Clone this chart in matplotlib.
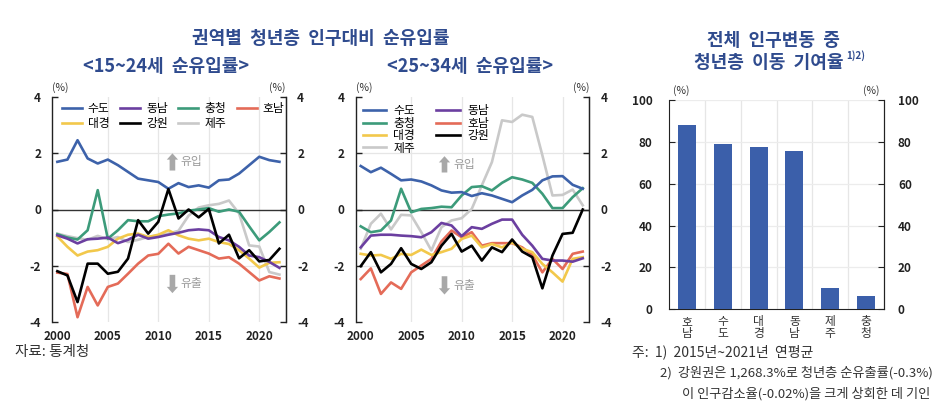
import matplotlib
matplotlib.use("Agg")
import matplotlib.pyplot as plt
import numpy as np

plt.rcParams['font.family'] = ['Noto Sans CJK KR', 'DejaVu Sans']
plt.rcParams['axes.unicode_minus'] = False

years = list(range(2000, 2023))

# <15~24세 순유입률> (%)
young_sudo = [1.70, 1.78, 2.47, 1.82, 1.64, 1.78, 1.58, 1.34, 1.10, 1.04, 0.98, 0.74, 0.94, 0.80, 0.86, 0.78, 1.04, 1.07, 1.28, 1.58, 1.88, 1.76, 1.70]
young_dongnam = [-0.92, -1.04, -1.21, -1.06, -1.04, -1.00, -1.20, -1.08, -0.90, -1.04, -0.98, -0.90, -0.83, -0.74, -0.71, -0.74, -0.98, -1.10, -1.33, -1.64, -1.70, -1.87, -2.08]
young_chungcheong = [-0.88, -1.00, -1.07, -0.74, 0.69, -1.04, -0.74, -0.38, -0.42, -0.42, -0.24, -0.18, -0.14, -0.04, 0.00, 0.05, -0.08, 0.00, -0.08, -0.60, -1.10, -0.80, -0.46]
young_honam = [-2.25, -2.30, -3.84, -2.76, -3.42, -2.76, -2.64, -2.29, -1.93, -1.64, -1.58, -1.22, -1.57, -1.33, -1.45, -1.57, -1.75, -1.70, -1.93, -2.23, -2.53, -2.38, -2.46]
young_daegyeong = [-0.96, -1.33, -1.64, -1.50, -1.45, -1.33, -1.04, -0.90, -0.86, -0.98, -0.90, -0.74, -0.92, -1.04, -1.10, -1.04, -1.16, -1.23, -1.45, -1.75, -2.07, -1.90, -1.88]
young_gangwon = [-2.20, -2.35, -3.30, -1.93, -1.93, -2.29, -2.22, -1.75, -0.38, -0.86, -0.44, 0.73, -0.32, 0.00, -0.28, 0.02, -1.21, -0.90, -1.74, -1.45, -1.85, -1.80, -1.40]
young_jeju = [-0.86, -0.95, -1.02, -1.08, -0.94, -1.06, -0.98, -1.16, -1.08, -0.98, -0.92, -0.86, -0.76, -0.22, 0.07, 0.15, 0.20, 0.32, -0.14, -1.28, -1.32, -2.23, -2.32]

# <25~34세 순유입률> (%)
adult_sudo = [1.55, 1.33, 1.49, 1.27, 1.04, 1.07, 1.00, 0.86, 0.68, 0.60, 0.62, 0.48, 0.58, 0.50, 0.38, 0.26, 0.50, 0.70, 1.04, 1.18, 1.19, 0.88, 0.74]
adult_dongnam = [-1.35, -0.93, -0.90, -0.90, -0.93, -0.95, -0.99, -0.81, -0.48, -0.57, -0.95, -0.63, -0.69, -0.51, -0.36, -0.36, -0.90, -1.29, -1.76, -1.82, -1.82, -1.86, -1.74]
adult_chungcheong = [-0.60, -0.81, -0.75, -0.39, 0.74, -0.10, 0.02, 0.05, 0.10, 0.08, 0.50, 0.80, 0.83, 0.68, 0.95, 1.15, 1.07, 0.95, 0.56, 0.05, 0.05, 0.44, 0.76]
adult_honam = [-2.48, -2.10, -3.01, -2.60, -2.83, -2.24, -2.00, -1.76, -1.14, -0.75, -0.99, -0.81, -1.29, -1.20, -1.20, -1.20, -1.35, -1.62, -2.24, -1.76, -2.12, -1.58, -1.50]
adult_daegyeong = [-1.58, -1.64, -1.62, -1.76, -1.58, -1.62, -1.43, -1.62, -1.52, -1.40, -1.05, -0.93, -1.35, -1.23, -1.35, -1.17, -1.40, -1.52, -1.94, -2.24, -2.57, -1.76, -1.70]
adult_gangwon = [-2.02, -1.52, -2.24, -1.94, -1.38, -1.94, -2.12, -1.88, -1.29, -0.87, -1.50, -1.29, -1.82, -1.35, -1.52, -1.07, -1.50, -1.70, -2.81, -1.64, -0.87, -0.83, 0.00]
adult_jeju = [-1.40, -0.51, -0.15, -0.71, -0.19, -0.21, -0.81, -1.46, -0.63, -0.39, -0.31, 0.02, 0.86, 1.69, 3.18, 3.12, 3.38, 3.30, 1.93, 0.50, 0.52, 0.71, 0.15]

# 전체 인구변동 중 청년층 이동 기여율 (%)
bar_regions = ['호남', '수도', '대경', '동남', '제주', '충청']
bar_values = [88.0, 78.8, 77.7, 75.8, 10.0, 6.4]

COL = {
    '수도': '#3d62aa', '동남': '#6b3fa0', '충청': '#3c9b7a', '호남': '#e46b58',
    '대경': '#f2c84b', '강원': '#000000', '제주': '#c9c9c9',
}
NAVY = '#2f4b8e'
BAR_COLOR = '#3b5faa'

W, H = 942, 416
fig = plt.figure(figsize=(W / 100, H / 100), dpi=100)


def fx(px):
    return px / W


def fy(py):
    return 1 - py / H


def style_line_axes(ax):
    ax.set_xlim(1999.5, 2022.65)
    ax.set_ylim(-4, 4)
    ax.set_yticks([-4, -2, 0, 2, 4])
    ax.set_xticks([2000, 2005, 2010, 2015, 2020])
    for s in ['top', 'bottom']:
        ax.spines[s].set_visible(False)
    for s in ['left', 'right']:
        ax.spines[s].set_color('#222222')
        ax.spines[s].set_linewidth(1.0)
    ax.tick_params(axis='y', direction='in', length=4, width=1, labelsize=8.5, colors='#222222', pad=8)
    ax.tick_params(axis='x', length=0, labelsize=8.5, pad=6, colors='#222222')
    for lbl in ax.get_xticklabels() + ax.get_yticklabels():
        lbl.set_fontweight('bold')
    for xv in [2005, 2010, 2015, 2020]:
        ax.axvline(xv, color='#e6e6e6', lw=0.9, zorder=0)
    for yv in [-2, 2]:
        ax.axhline(yv, color='#e6e6e6', lw=0.9, zorder=0)
    ax.axhline(0, color='#333333', lw=1.0, zorder=1)
    ax2 = ax.twinx()
    ax2.set_ylim(-4, 4)
    ax2.set_yticks([-4, -2, 0, 2, 4])
    for s in ['top', 'bottom', 'left']:
        ax2.spines[s].set_visible(False)
    ax2.spines['right'].set_color('#222222')
    ax2.tick_params(axis='y', direction='in', length=4, width=1, labelsize=8.5, colors='#222222', pad=8)
    for lbl in ax2.get_yticklabels():
        lbl.set_fontweight('bold')
    ax.text(0.0, 1.02, '(%)', transform=ax.transAxes, fontsize=7.5, ha='left', va='bottom', color='#333333')
    ax.text(1.0, 1.02, '(%)', transform=ax.transAxes, fontsize=7.5, ha='right', va='bottom', color='#333333')


def arrows(ax, x, up, down, tx):
    ax.annotate('', xy=(x, up[1]), xytext=(x, up[0]),
                arrowprops=dict(arrowstyle='simple,head_width=0.9,head_length=0.5,tail_width=0.45',
                                color='#a8a8a8', lw=0, mutation_scale=9))
    ax.annotate('', xy=(x, down[1]), xytext=(x, down[0]),
                arrowprops=dict(arrowstyle='simple,head_width=0.9,head_length=0.5,tail_width=0.45',
                                color='#a8a8a8', lw=0, mutation_scale=9))
    ax.text(tx, (up[0] + up[1]) / 2, '유입', fontsize=8.5, color='#9a9a9a', va='center', ha='left')
    ax.text(tx, (down[0] + down[1]) / 2, '유출', fontsize=8.5, color='#9a9a9a', va='center', ha='left')


names = ['수도', '동남', '충청', '호남', '대경', '강원', '제주']
young = dict(zip(names, [young_sudo, young_dongnam, young_chungcheong, young_honam,
                         young_daegyeong, young_gangwon, young_jeju]))
adult = dict(zip(names, [adult_sudo, adult_dongnam, adult_chungcheong, adult_honam,
                         adult_daegyeong, adult_gangwon, adult_jeju]))
draw_order = ['제주', '호남', '대경', '충청', '동남', '수도', '강원']

# ---- left line chart
ax1 = fig.add_axes([fx(52.3), fy(321.7), fx(286 - 52.3), (321.7 - 97.3) / H])
style_line_axes(ax1)
h1 = {}
for n in draw_order:
    h1[n], = ax1.plot(years, young[n], color=COL[n], lw=1.9, label=n, zorder=3 if n != '강원' else 4)
arrows(ax1, 2011.4, (1.29, 2.1), (-2.23, -3.08), 2012.2)
order1 = ['수도', '대경', '동남', '강원', '충청', '제주', '호남']
ax1.legend([h1[n] for n in order1], order1, ncol=4, loc='upper left',
           bbox_to_anchor=(0.02, 1.0), frameon=False, fontsize=8.5,
           handlelength=1.7, handletextpad=0.5, columnspacing=0.9, labelspacing=0.15,
           borderaxespad=0.2, borderpad=0.2)

# ---- right line chart
ax3 = fig.add_axes([fx(355.7), fy(321.7), fx(589.3 - 355.7), (321.7 - 97.3) / H])
style_line_axes(ax3)
h3 = {}
for n in draw_order:
    h3[n], = ax3.plot(years, adult[n], color=COL[n], lw=1.9, label=n, zorder=3 if n != '강원' else 4)
arrows(ax3, 2008.3, (1.22, 2.0), (-2.28, -3.13), 2009.2)
order3 = ['수도', '충청', '대경', '제주', '동남', '호남', '강원']
ax3.legend([h3[n] for n in order3], order3, ncol=2, loc='upper left',
           bbox_to_anchor=(0.0, 1.0), frameon=False, fontsize=8.5,
           handlelength=2.0, handletextpad=0.6, columnspacing=1.8, labelspacing=-0.05,
           borderaxespad=0.2)

# ---- bar chart
ax5 = fig.add_axes([fx(669), fy(309.3), fx(884 - 669), (309.3 - 100) / H])
xpos = np.arange(len(bar_regions))
ax5.bar(xpos, bar_values, width=0.5, color=BAR_COLOR, zorder=3)
ax5.set_xlim(-0.5, len(bar_regions) - 0.5)
ax5.set_ylim(0, 100)
ax5.set_yticks([0, 20, 40, 60, 80, 100])
ax5.set_xticks(xpos)
ax5.set_xticklabels(['\n'.join(r) for r in bar_regions], fontsize=8.5, color='#333333', linespacing=0.95)
for b in np.arange(0.5, len(bar_regions) - 0.5, 1.0):
    ax5.axvline(b, color='#e6e6e6', lw=0.9, zorder=0)
for yv in [20, 40, 60, 80, 100]:
    ax5.axhline(yv, color='#ececec', lw=0.9, zorder=0)
ax5.spines['top'].set_visible(False)
for s in ['left', 'right', 'bottom']:
    ax5.spines[s].set_color('#222222')
ax5.tick_params(axis='y', direction='in', length=4, labelsize=8.5, colors='#222222', pad=12)
ax5.tick_params(axis='x', length=0, pad=4)
for lbl in ax5.get_yticklabels():
    lbl.set_fontweight('bold')
ax6 = ax5.twinx()
ax6.set_ylim(0, 100)
ax6.set_yticks([0, 20, 40, 60, 80, 100])
for s in ['top', 'left', 'bottom']:
    ax6.spines[s].set_visible(False)
ax6.spines['right'].set_color('#222222')
ax6.tick_params(axis='y', direction='in', length=4, labelsize=8.5, colors='#222222', pad=10)
for lbl in ax6.get_yticklabels():
    lbl.set_fontweight('bold')
ax5.text(0.02, 1.02, '(%)', transform=ax5.transAxes, fontsize=7.5, ha='left', va='bottom', color='#333333')
ax5.text(0.98, 1.02, '(%)', transform=ax5.transAxes, fontsize=7.5, ha='right', va='bottom', color='#333333')

# ---- titles
fig.text(fx(321), fy(38), '권역별  청년층  인구대비  순유입률', fontsize=13, fontweight='bold',
         color=NAVY, ha='center', va='center')
fig.text(fx(166), fy(66), '<15~24세  순유입률>', fontsize=13, fontweight='bold',
         color=NAVY, ha='center', va='center')
fig.text(fx(470), fy(66), '<25~34세  순유입률>', fontsize=13, fontweight='bold',
         color=NAVY, ha='center', va='center')
fig.text(fx(773), fy(40), '전체  인구변동  중', fontsize=13, fontweight='bold',
         color=NAVY, ha='center', va='center')
fig.text(fx(844), fy(63), '청년층  이동  기여율', fontsize=13, fontweight='bold',
         color=NAVY, ha='right', va='center')
fig.text(fx(846), fy(56), '1)2)', fontsize=7, fontweight='bold',
         color=NAVY, ha='left', va='center')

# ---- footnotes
fig.text(fx(15), fy(352), '자료: 통계청', fontsize=10.5, color='#333333', ha='left', va='center')
fig.text(fx(632), fy(352), '주:  1)  2015년~2021년  연평균', fontsize=10, color='#333333', ha='left', va='center')
fig.text(fx(660), fy(373), '2)  강원권은 1,268.3%로 청년층 순유출률(-0.3%)', fontsize=9.5, color='#333333', ha='left', va='center')
fig.text(fx(682), fy(394), '이 인구감소율(-0.02%)을 크게 상회한 데 기인', fontsize=9.5, color='#333333', ha='left', va='center')

fig.savefig('out.png', dpi=100)
